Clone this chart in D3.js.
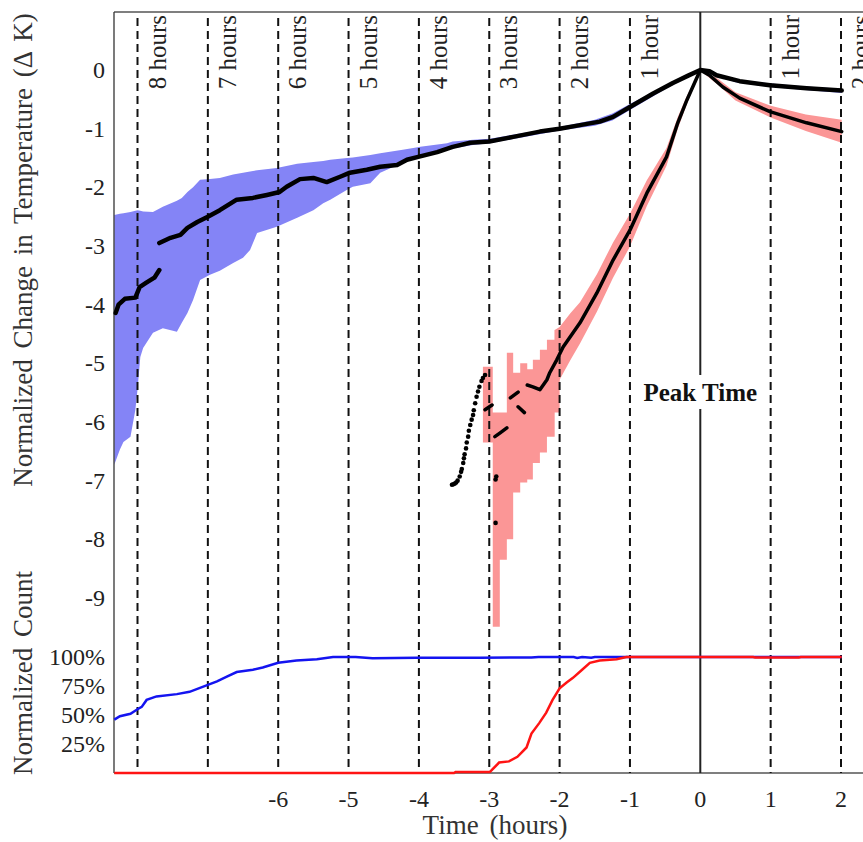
<!DOCTYPE html>
<html>
<head>
<meta charset="utf-8">
<script src="https://cdn.jsdelivr.net/npm/d3@7"></script>
<style>
  body { margin: 0; background: #fff; }
  text { font-family: "Liberation Serif", "Times New Roman", serif; fill: #222; }
  .tick-label { font-size: 24px; }
  .axis-title { font-size: 27px; word-spacing: 4px; fill: #333; }
  .hour-label { font-size: 25px; }
  .peak-label { font-size: 25px; font-weight: bold; fill: #111; }
</style>
</head>
<body>
<div id="chart"></div>
<script>

/**********************
***** DATA *****
**********************/

// vertical guide lines (hours from peak) and their labels
const hourLines = [-8, -7, -6, -5, -4, -3, -2, -1, 1, 2];
const hourLabels = ["8 hours", "7 hours", "6 hours", "5 hours", "4 hours",
                    "3 hours", "2 hours", "1 hour", "1 hour", "2 hours"];

const xTicks = [-6, -5, -4, -3, -2, -1, 0, 1, 2];
const tempTicks = [0, -1, -2, -3, -4, -5, -6, -7, -8, -9];
const countTicks = [25, 50, 75, 100];

// blue group: mean temperature change [hours, K] (null = gap)
const blueMean = [
  [-8.31, -4.14], [-8.27, -4.00], [-8.18, -3.90], [-8.03, -3.88], [-7.97, -3.70],
  [-7.88, -3.63], [-7.76, -3.54], [-7.69, -3.41], null,
  [-7.69, -2.95], [-7.53, -2.86], [-7.39, -2.81], [-7.29, -2.69], [-7.15, -2.59],
  [-7.00, -2.50], [-6.83, -2.39], [-6.59, -2.21], [-6.36, -2.18], [-6.16, -2.13],
  [-5.98, -2.08], [-5.88, -1.99], [-5.69, -1.86], [-5.50, -1.84], [-5.31, -1.91],
  [-5.12, -1.82], [-4.98, -1.75], [-4.74, -1.70], [-4.55, -1.65], [-4.31, -1.62],
  [-4.17, -1.53], [-4.01, -1.48], [-3.74, -1.40], [-3.52, -1.31], [-3.27, -1.24],
  [-3.00, -1.22], [-2.66, -1.14], [-2.28, -1.05], [-2.00, -1.00], [-1.71, -0.94],
  [-1.43, -0.88], [-1.24, -0.80], [-1.00, -0.63], [-0.67, -0.40], [-0.39, -0.22],
  [-0.18, -0.10], [0, 0],
  [0.13, -0.02], [0.23, -0.09], [0.56, -0.19], [0.99, -0.26], [1.51, -0.31], [2.01, -0.35]
];

// blue group: spread [hours, low, high]
const blueBand = [
  [-8.33, -6.73, -2.47], [-8.25, -6.47, -2.45], [-8.20, -6.34, -2.44], [-8.10, -6.25, -2.42],
  [-8.03, -5.79, -2.40], [-8.00, -5.45, -2.39], [-7.96, -4.89, -2.40], [-7.92, -4.74, -2.41],
  [-7.78, -4.48, -2.42], [-7.64, -4.40, -2.33], [-7.44, -4.46, -2.23], [-7.37, -4.31, -2.18],
  [-7.29, -4.14, -2.08], [-7.21, -3.92, -2.00], [-7.11, -3.58, -1.87], [-6.97, -3.49, -1.86],
  [-6.83, -3.42, -1.84], [-6.64, -3.29, -1.78], [-6.50, -3.20, -1.75], [-6.40, -3.07, -1.73],
  [-6.30, -2.78, -1.71], [-6.02, -2.67, -1.67], [-5.73, -2.52, -1.60], [-5.50, -2.39, -1.57],
  [-5.36, -2.27, -1.55], [-5.26, -2.21, -1.53], [-5.02, -2.04, -1.50], [-4.94, -1.99, -1.49],
  [-4.69, -1.93, -1.45], [-4.55, -1.75, -1.42], [-4.23, -1.58, -1.36], [-4.08, -1.50, -1.33],
  [-3.98, -1.48, -1.31], [-3.60, -1.36, -1.25], [-3.52, -1.34, -1.22], [-3.23, -1.28, -1.19],
  [-2.99, -1.25, -1.17], [-2.50, -1.14, -1.07], [-2.00, -1.03, -0.97], [-1.50, -0.95, -0.85],
  [-1.25, -0.86, -0.74], [-1.00, -0.68, -0.58], [-0.50, -0.33, -0.27], [0, -0.01, 0.01],
  [0.50, -0.21, -0.16], [1.00, -0.29, -0.23], [1.50, -0.34, -0.28], [2.01, -0.39, -0.32]
];

// red group: mean temperature change [hours, K] (null = gap)
const redMean = [
  [-3.06, -5.79], [-2.96, -5.71], null,
  [-2.92, -6.25], [-2.84, -6.18], [-2.75, -6.10], null,
  [-2.70, -5.59], [-2.59, -5.49], null,
  [-2.59, -5.74], [-2.50, -5.84], null,
  [-2.46, -5.37], [-2.38, -5.40], [-2.28, -5.45], [-2.18, -5.28], [-2.14, -5.16],
  [-2.04, -4.94], [-1.95, -4.72], [-1.71, -4.31], [-1.47, -3.80], [-1.24, -3.24],
  [-1.00, -2.73], [-0.76, -2.10], [-0.48, -1.48], [-0.32, -0.90], [-0.19, -0.51], [0, 0],
  [0.13, -0.09], [0.32, -0.29], [0.56, -0.48], [0.99, -0.71], [1.51, -0.90], [2.01, -1.05]
];

// red group: single-sample dots before -3 h, plus two stray points
const redDots = [
  [-3.53, -7.07], [-3.51, -7.06], [-3.49, -7.05], [-3.47, -7.03], [-3.45, -7.00],
  [-3.42, -6.93], [-3.40, -6.85], [-3.39, -6.80], [-3.37, -6.70], [-3.36, -6.62],
  [-3.35, -6.55], [-3.33, -6.45], [-3.32, -6.35], [-3.30, -6.25], [-3.29, -6.15],
  [-3.27, -6.05], [-3.25, -5.96], [-3.23, -5.88], [-3.22, -5.80], [-3.20, -5.68],
  [-3.18, -5.57], [-3.16, -5.48], [-3.14, -5.40], [-3.11, -5.30], [-3.09, -5.25],
  [-3.06, -5.20], [-2.91, -6.98], [-2.90, -6.93], [-2.91, -7.72]
];

// red group: spread [hours, low, high]
const redBand = [
  [-3.09, -6.35, -5.06], [-2.97, -6.35, -5.06], [-2.95, -9.49, -5.84], [-2.85, -8.35, -5.84],
  [-2.75, -8.00, -4.82], [-2.66, -7.20, -5.16], [-2.56, -7.03, -5.00], [-2.46, -6.98, -5.10],
  [-2.38, -6.70, -4.94], [-2.28, -6.52, -4.77], [-2.18, -6.25, -4.60], [-2.07, -5.84, -4.43],
  [-2.00, -5.28, -4.38], [-1.85, -4.95, -4.15], [-1.71, -4.66, -3.96], [-1.47, -4.12, -3.48],
  [-1.24, -3.54, -2.94], [-1.00, -3.01, -2.45], [-0.76, -2.32, -1.88], [-0.48, -1.63, -1.33],
  [-0.32, -1.00, -0.80], [-0.19, -0.58, -0.44], [0, -0.01, 0.01],
  [0.25, -0.25, -0.15], [0.50, -0.52, -0.38], [1.00, -0.81, -0.61], [1.50, -1.04, -0.76],
  [2.01, -1.24, -0.85]
];

// normalized counts [hours, percent]
const blueCount = [
  [-8.33, 46], [-8.25, 49], [-8.10, 51], [-8.00, 55], [-7.94, 57], [-7.87, 63],
  [-7.73, 66], [-7.44, 68], [-7.26, 70], [-7.00, 76], [-6.87, 79], [-6.73, 83],
  [-6.59, 87], [-6.36, 89], [-6.22, 91], [-6.00, 95], [-5.74, 97], [-5.45, 98],
  [-5.22, 100], [-4.90, 100], [-4.66, 99], [-4.03, 99.4], [-3.13, 99.4], [-2.40, 99.6],
  [-2.30, 100], [-1.80, 100], [-1.75, 99.2], [-1.68, 100], [-1.55, 99.3], [-1.50, 100],
  [2.01, 100]
];
const redCount = [
  [-8.33, 0], [-3.50, 0], [-3.48, 0.8], [-3.00, 0.8], [-2.99, 1], [-2.86, 9],
  [-2.72, 10], [-2.60, 14], [-2.47, 22], [-2.40, 34], [-2.29, 43], [-2.19, 52],
  [-2.10, 63], [-2.00, 73], [-1.90, 78], [-1.81, 82], [-1.68, 89], [-1.57, 95],
  [-1.43, 97], [-1.19, 98], [-1.05, 100], [0.75, 100], [0.78, 99.5], [1.40, 99.5],
  [1.43, 100], [2.01, 100]
];

/**********************
***** BASIC SETUP *****
**********************/

const width = 863;
const height = 842;
const plotLeft = 114;
const plotTop = 12;
const plotBottom = 773;

const svg = d3.select("#chart")
    .append("svg")
    .attr("width", width)
    .attr("height", height);

/***********************
***** X & Y SCALES *****
***********************/

const xScale = d3.scaleLinear()
    .domain([-8, 2])
    .range([137.5, 841]);

const yTemp = d3.scaleLinear()
    .domain([-9, 0])
    .range([598, 70]);

const yCount = d3.scaleLinear()
    .domain([0, 100])
    .range([773, 657]);

/*****************
***** BANDS ******
*****************/

const bandArea = d3.area()
    .x(d => xScale(d[0]))
    .y0(d => yTemp(d[1]))
    .y1(d => yTemp(d[2]));

const stepArea = d3.area()
    .curve(d3.curveStepAfter)
    .x(d => xScale(d[0]))
    .y0(d => yTemp(d[1]))
    .y1(d => yTemp(d[2]));

svg.append("path")
    .datum(blueBand)
    .attr("d", bandArea)
    .attr("fill", "#8484f6");

// noisy early part of the red spread is blocky, the rest is smooth
svg.append("path")
    .datum(redBand.filter(d => d[0] <= -2.0))
    .attr("d", stepArea)
    .attr("fill", "#fb9696");

svg.append("path")
    .datum(redBand.filter(d => d[0] >= -2.07))
    .attr("d", bandArea)
    .attr("fill", "#fb9696");

/*****************************
***** FRAME, GUIDE LINES *****
*****************************/

svg.append("line")
    .attr("x1", plotLeft).attr("x2", width)
    .attr("y1", plotTop).attr("y2", plotTop)
    .attr("stroke", "#555").attr("stroke-width", 1.3);

svg.append("line")
    .attr("x1", plotLeft).attr("x2", width)
    .attr("y1", plotBottom).attr("y2", plotBottom)
    .attr("stroke", "#555").attr("stroke-width", 1.3);

svg.append("line")
    .attr("x1", plotLeft).attr("x2", plotLeft)
    .attr("y1", plotTop).attr("y2", plotBottom)
    .attr("stroke", "#333").attr("stroke-width", 1.3);

svg.selectAll(".hourLine")
    .data(hourLines)
    .enter()
    .append("line")
    .attr("class", "hourLine")
    .attr("x1", d => xScale(d)).attr("x2", d => xScale(d))
    .attr("y1", plotTop + 6).attr("y2", plotBottom)
    .attr("stroke", "#111")
    .attr("stroke-width", 2)
    .attr("stroke-dasharray", "8,5");

// peak time line
svg.append("line")
    .attr("x1", xScale(0)).attr("x2", xScale(0))
    .attr("y1", plotTop).attr("y2", plotBottom)
    .attr("stroke", "#222")
    .attr("stroke-width", 2);

svg.selectAll(".hour-label")
    .data(hourLines)
    .enter()
    .append("text")
    .attr("class", "hour-label")
    .attr("transform", d => `translate(${xScale(d) + 28}, 15) rotate(-90)`)
    .attr("text-anchor", "end")
    .text((d, i) => hourLabels[i]);

/***********************
***** MEAN SERIES ******
***********************/

const meanLine = d3.line()
    .defined(d => d !== null)
    .x(d => xScale(d[0]))
    .y(d => yTemp(d[1]));

svg.append("path")
    .datum(blueMean)
    .attr("d", meanLine)
    .attr("fill", "none")
    .attr("stroke", "#000")
    .attr("stroke-width", 4.5)
    .attr("stroke-linecap", "round")
    .attr("stroke-linejoin", "round");

svg.append("path")
    .datum(redMean)
    .attr("d", meanLine)
    .attr("fill", "none")
    .attr("stroke", "#000")
    .attr("stroke-width", 3.5)
    .attr("stroke-linecap", "round")
    .attr("stroke-linejoin", "round");

svg.selectAll(".redDot")
    .data(redDots)
    .enter()
    .append("circle")
    .attr("class", "redDot")
    .attr("cx", d => xScale(d[0]))
    .attr("cy", d => yTemp(d[1]))
    .attr("r", 2.3)
    .attr("fill", "#000");

/***********************
***** COUNT LINES ******
***********************/

const countLine = d3.line()
    .x(d => xScale(d[0]))
    .y(d => yCount(d[1]));

svg.append("path")
    .datum(blueCount)
    .attr("d", countLine)
    .attr("fill", "none")
    .attr("stroke", "#1414f0")
    .attr("stroke-width", 2.5);

svg.append("path")
    .datum(redCount)
    .attr("d", countLine)
    .attr("fill", "none")
    .attr("stroke", "#ff1414")
    .attr("stroke-width", 2.5);

/***********************
***** PEAK LABEL *******
***********************/

const peak = svg.append("g")
    .attr("transform", `translate(${xScale(0)}, 401)`);

peak.append("rect")
    .attr("x", -58).attr("y", -26)
    .attr("width", 116).attr("height", 34)
    .attr("fill", "#fff");

peak.append("text")
    .attr("class", "peak-label")
    .attr("text-anchor", "middle")
    .text("Peak Time");

/*************************
***** AXES, TITLES *******
*************************/

svg.selectAll(".xTick")
    .data(xTicks)
    .enter()
    .append("text")
    .attr("class", "tick-label xTick")
    .attr("x", d => xScale(d))
    .attr("y", 807)
    .attr("text-anchor", "middle")
    .text(d => d);

svg.selectAll(".tempTick")
    .data(tempTicks)
    .enter()
    .append("text")
    .attr("class", "tick-label tempTick")
    .attr("x", 105)
    .attr("y", d => yTemp(d) + 8)
    .attr("text-anchor", "end")
    .text(d => d);

svg.selectAll(".countTick")
    .data(countTicks)
    .enter()
    .append("text")
    .attr("class", "tick-label countTick")
    .attr("x", 105)
    .attr("y", d => yCount(d) + 8)
    .attr("text-anchor", "end")
    .text(d => d + "%");

svg.append("text")
    .attr("class", "axis-title")
    .attr("x", 495)
    .attr("y", 834)
    .attr("text-anchor", "middle")
    .text("Time (hours)");

svg.append("text")
    .attr("class", "axis-title")
    .attr("transform", "translate(32, 250) rotate(-90)")
    .attr("text-anchor", "middle")
    .text("Normalized Change in Temperature (Δ K)");

svg.append("text")
    .attr("class", "axis-title")
    .attr("transform", "translate(32, 673) rotate(-90)")
    .attr("text-anchor", "middle")
    .text("Normalized Count");

</script>
</body>
</html>
